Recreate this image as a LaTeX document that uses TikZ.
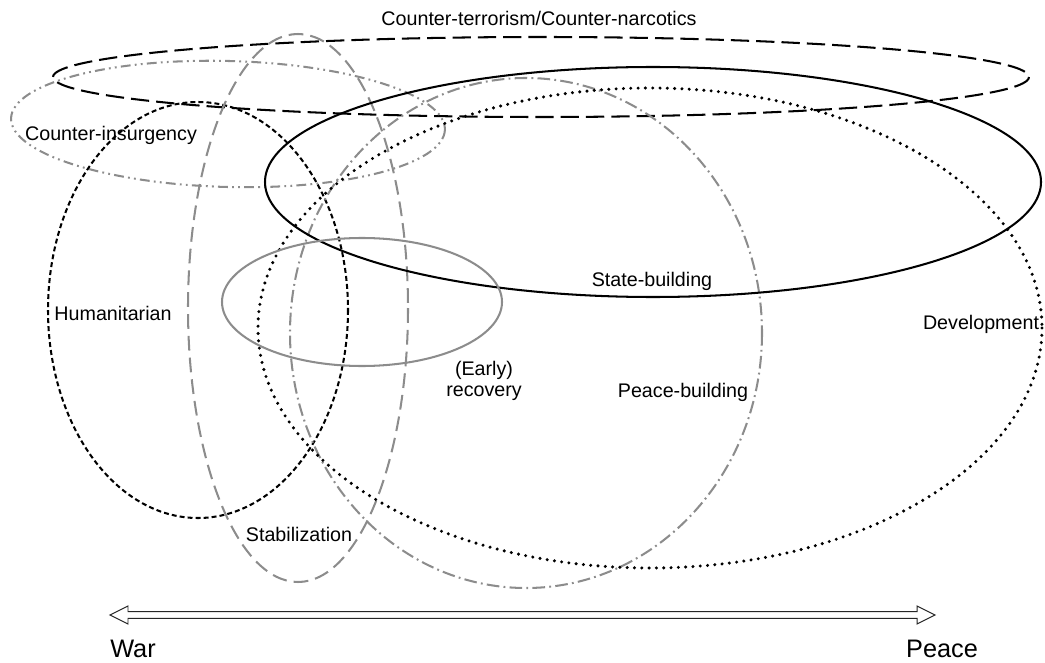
\documentclass[tikz,border=0pt]{standalone}
\usepackage{fontspec}
\setmainfont{Liberation Sans}
\begin{document}
\begin{tikzpicture}[x=0.025cm, y=-0.025cm, every node/.style={font=\fontsize{14}{14.3}\selectfont, align=center, inner sep=0pt, anchor=base}, zone/.style={line width=1.45pt}, pale/.style={draw=black!45}, bigtext/.style={font=\fontsize{18}{22}\selectfont}, scale arrow/.style={line width=0.7pt, draw=black!85, fill=white}]

	\useasboundingbox (0,0) rectangle (1045,663);

	% centres of the areas
	\coordinate (ct) at (541,77);
	\coordinate (ci) at (228,124);
	\coordinate (hum) at (198,310);
	\coordinate (stab) at (298,308);
	\coordinate (pb) at (526,333);
	\coordinate (dev) at (650,328);
	\coordinate (sb) at (653,182);
	\coordinate (er) at (362,302);

	\draw[zone, dash pattern=on 13pt off 5pt] (ct) ellipse [x radius=488, y radius=40];
	\draw[zone, pale, dash pattern=on 7pt off 3pt on 1.3pt off 3pt on 1.3pt off 3pt, rotate around={-1.5:(ci)}] (ci) ellipse [x radius=217, y radius=63];
	\draw[zone, dash pattern=on 3.5pt off 2.2pt] (hum) ellipse [x radius=150, y radius=208];
	\draw[zone, pale, dash pattern=on 10.5pt off 5pt] (stab) ellipse [x radius=110, y radius=274];
	\draw[zone, pale, dash pattern=on 9pt off 3pt on 1.3pt off 3pt] (pb) ellipse [x radius=236, y radius=255];
	\draw[line width=2.4pt, line cap=round, dash pattern=on 0pt off 5.2pt] (dev) ellipse [x radius=392, y radius=240];
	\draw[zone] (sb) ellipse [x radius=388, y radius=115];
	\draw[zone, pale] (er) ellipse [x radius=140, y radius=64];

	\node (ctlabel) at (539,26) {Counter-terrorism/Counter-narcotics};
	\node (cilabel) at (111,141) {Counter-insurgency};
	\node (humlabel) at (113,320) {Humanitarian};
	\node (stablabel) at (299,541) {Stabilization};
	\node (erlabel) at (484,396) {(Early)\\recovery};
	\node (sblabel) at (652,286) {State-building};
	\node (pblabel) at (683,397) {Peace-building};
	\node (devlabel) at (981,329) {Development};

	% war to peace scale
	\coordinate (war end) at (110,615);
	\coordinate (peace end) at (935,615);
	\draw[scale arrow] (war end) -- ++(18,-9) -- ++(0,5.7) -- ++(789,0) -- ++(0,-5.7) -- (peace end) -- ++(-18,9) -- ++(0,-5.7) -- ++(-789,0) -- ++(0,5.7) -- cycle;
	\node[bigtext] (war) at (133,657) {War};
	\node[bigtext] (peace) at (942,657) {Peace};

\end{tikzpicture}
\end{document}
